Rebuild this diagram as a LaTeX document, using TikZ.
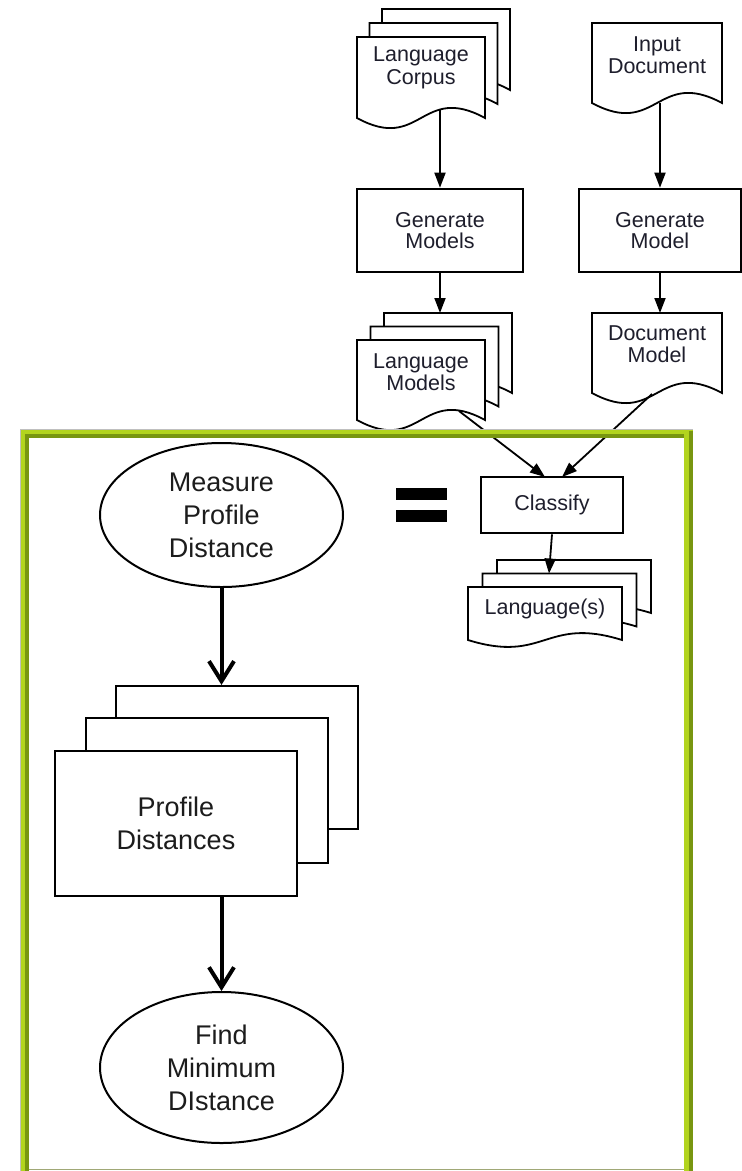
\documentclass[tikz,border=0pt]{standalone}
\usepackage{fontspec}
\setmainfont{Liberation Sans}
\usetikzlibrary{arrows.meta,shapes.geometric,calc}

\definecolor{txtdark}{RGB}{30,30,44}
\definecolor{txtlow}{RGB}{28,28,28}
\definecolor{framehi}{RGB}{178,212,30}
\definecolor{framedark}{RGB}{120,150,16}
\definecolor{framebottom}{RGB}{160,168,118}

% a document sheet with a wavy lower edge: x0, y0, width, height, wave control
\newcommand{\sheet}[5]{%
  \filldraw[sheetline] ({#1},{#2+#4}) -- (#1,#2) -- ({#1+#3},#2) -- ({#1+#3},{#2+#4})
    .. controls ({#1+0.5*#3},{#2+#4-#5}) and ({#1+0.5*#3},{#2+#4+#5}) .. ({#1},{#2+#4}) -- cycle;}

\tikzset{
  sheetline/.style={draw=black, fill=white, line width=1.8pt, line join=miter},
  doctext/.style={font=\fontsize{21.5}{22.5}\selectfont, align=center, text=txtdark, inner sep=0pt},
  procbox/.style={draw=black, fill=white, line width=2.6pt, align=center, inner sep=0pt,
    font=\fontsize{21.5}{21.5}\selectfont, text=txtdark},
  thinarrow/.style={line width=1.8pt, -{Triangle[length=15pt,width=11pt]}},
  bigarrow/.style={line width=4pt, -{Straight Barb[length=20pt,width=25pt,line width=4pt]}},
  oval/.style={ellipse, draw=black, line width=2pt, inner sep=0pt, align=center,
    font=\fontsize{27}{33}\selectfont, text=txtlow},
  stackrect/.style={draw=black, fill=white, line width=2.2pt, inner sep=0pt},
}

\begin{document}
\begin{tikzpicture}[x=1pt, y=-1pt]
\useasboundingbox (0,0) rectangle (742,1171);

% ---------- language corpus (stack of sheets) ----------
\sheet{382}{9}{128}{81}{35}
\sheet{369.5}{23}{128}{81}{35}
\sheet{357}{37}{128}{81}{35}
\node[doctext] (corpus) at (421,68) {Language\\Corpus};
\coordinate (corpusout) at (440,110);

% ---------- input document ----------
\sheet{592}{23}{130}{80}{35}
\node[doctext] (inputdoc) at (657,55) {Input\\Document};
\coordinate (inputout) at (660,103);

% ---------- model generation ----------
\node[procbox, minimum width=166pt, minimum height=83pt] (genmodels) at (440,230.5) {Generate\\Models};
\node[procbox, minimum width=162pt, minimum height=83pt] (genmodel) at (660,230.5) {Generate\\Model};

\draw[thinarrow] (corpusout) -- (genmodels);
\draw[thinarrow] (inputout) -- (genmodel);

% ---------- language models (stack of sheets) ----------
\sheet{384}{313}{128}{80}{35}
\sheet{370.5}{326.5}{128}{80}{35}
\sheet{357}{340}{128}{80}{35}
\node[doctext] (langmodels) at (421,372) {Language\\Models};
\coordinate (lmtop) at (440,313);
\coordinate (lmout) at (459,411);

% ---------- document model ----------
\sheet{592}{313}{130}{80}{35}
\node[doctext] (docmodel) at (657,344) {Document\\Model};
\coordinate (dmtop) at (660,313);
\coordinate (dmout) at (652,394);

\draw[thinarrow] (genmodels) -- (lmtop);
\draw[thinarrow] (genmodel) -- (dmtop);

% ---------- classification ----------
\node[procbox, minimum width=142pt, minimum height=56pt] (classify) at (552,505) {Classify};
\coordinate (clsinl) at (545,477);
\coordinate (clsinr) at (562,477);
\draw[thinarrow] (lmout) -- (clsinl);
\draw[thinarrow] (dmout) -- (clsinr);

% ---------- detected languages (stack of sheets) ----------
\sheet{497}{560}{154}{53}{24}
\sheet{482.5}{573.5}{154}{53}{24}
\sheet{468}{587}{154}{53}{24}
\node[doctext] (langs) at (545,609) {Language(s)};
\coordinate (langstop) at (549,573.5);
\draw[thinarrow] (classify.south) -- (langstop);

% ---------- frame around the expanded step ----------
\draw[framehi, line width=9pt] (24.5,1171) -- (24.5,433.5) -- (688.5,433.5) -- (688.5,1171);
\draw[framedark, line width=3.5pt] (27.2,1171) -- (27.2,436.2) -- (684,436.2);
\draw[framedark, line width=3.5pt] (691.2,430.5) -- (691.2,1171);
\draw[black!25, line width=0.8pt] (20,1171) -- (20,429) -- (693,429);
\draw[framebottom, line width=1.6pt] (29,1169.5) -- (684,1169.5);

% ---------- equals sign ----------
\fill[black] (396,488) rectangle (447,500);
\fill[black] (396,510) rectangle (447,522);

% ---------- expanded classification step ----------
\node[oval, minimum width=243pt, minimum height=144pt] (measure) at (221.5,515) {Measure\\Profile\\Distance};

\node[stackrect, minimum width=242pt, minimum height=143pt] (pd3) at (237,757.5) {};
\node[stackrect, minimum width=242pt, minimum height=145pt] (pd2) at (207,790.5) {};
\node[stackrect, line width=2.6pt, minimum width=242pt, minimum height=145pt,
  align=center, font=\fontsize{27}{33}\selectfont, text=txtlow] (pd1) at (176,823.5) {Profile\\Distances};

\node[oval, minimum width=243pt, minimum height=151pt] (findmin) at (221.5,1067.5) {Find\\Minimum\\DIstance};

\draw[bigarrow] (measure.south) -- (measure.south |- pd3.north);
\draw[bigarrow] (measure.south |- pd1.south) -- (findmin.north);
\end{tikzpicture}
\end{document}
